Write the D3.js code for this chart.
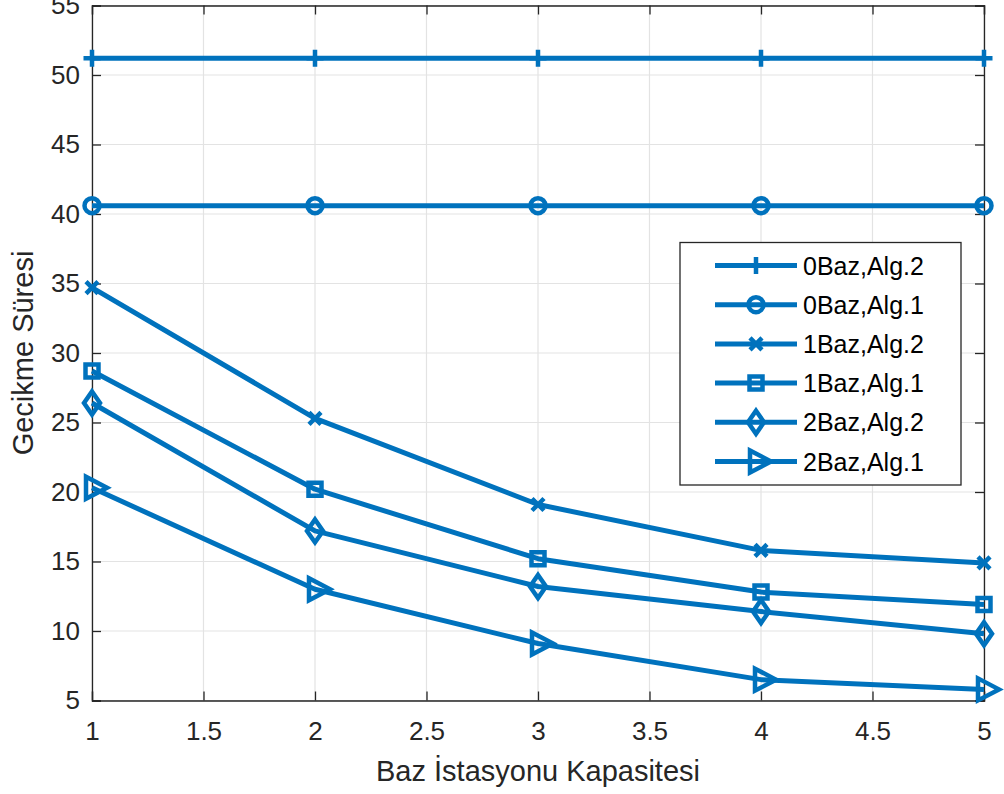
<!DOCTYPE html>
<html>
<head>
<meta charset="utf-8">
<script src="https://cdn.jsdelivr.net/npm/d3@7"></script>
<style>
  html, body { margin: 0; padding: 0; background: #fff; }
  svg { display: block; font-family: "Liberation Sans", Arial, Helvetica, sans-serif; }
</style>
</head>
<body>
<svg id="chart" width="1004" height="794"></svg>
<script>
// Base station capacity on the x axis
const capacities = [1, 2, 3, 4, 5];

// Delay per scenario
const baz0Alg2 = [51.2, 51.2, 51.2, 51.2, 51.2];
const baz0Alg1 = [40.6, 40.6, 40.6, 40.6, 40.6];
const baz1Alg2 = [34.7, 25.3, 19.1, 15.8, 14.9];
const baz1Alg1 = [28.7, 20.2, 15.2, 12.8, 11.9];
const baz2Alg2 = [26.4, 17.2, 13.2, 11.4, 9.8];
const baz2Alg1 = [20.3, 13.0, 9.1, 6.5, 5.8];

const seriesNames = ["0Baz,Alg.2", "0Baz,Alg.1", "1Baz,Alg.2", "1Baz,Alg.1", "2Baz,Alg.2", "2Baz,Alg.1"];
const seriesMarkers = ["plus", "circle", "cross", "square", "diamond", "triangle"];
const seriesValues = [baz0Alg2, baz0Alg1, baz1Alg2, baz1Alg1, baz2Alg2, baz2Alg1];

const xTicks = [1, 1.5, 2, 2.5, 3, 3.5, 4, 4.5, 5];
const yTicks = [5, 10, 15, 20, 25, 30, 35, 40, 45, 50, 55];

const xLabel = "Baz İstasyonu Kapasitesi";
const yLabel = "Gecikme Süresi";

const color = "#0072BD";
const axisColor = "#262626";
const gridColor = "#e3e3e3";
const lineW = 5;

const W = 1004, H = 794;
const margin = { left: 92, right: W - 984, top: 5.5, bottom: H - 700.5 };
const svg = d3.select("#chart");

const x = d3.scaleLinear().domain([1, 5]).range([margin.left, W - margin.right]);
const y = d3.scaleLinear().domain([5, 55]).range([H - margin.bottom, margin.top]);

// grid
const grid = svg.append("g");
grid.selectAll("line.gx").data(xTicks).join("line")
  .attr("x1", d => x(d)).attr("x2", d => x(d))
  .attr("y1", y(55)).attr("y2", y(5))
  .attr("stroke", gridColor).attr("stroke-width", 1.2);
grid.selectAll("line.gy").data(yTicks).join("line")
  .attr("y1", d => y(d)).attr("y2", d => y(d))
  .attr("x1", x(1)).attr("x2", x(5))
  .attr("stroke", gridColor).attr("stroke-width", 1.2);

// axes with inward ticks on all four sides
const tickLen = 9;
const fontSize = 26;
const xAxis = d3.axisBottom(x).tickValues(xTicks).tickSize(-tickLen).tickPadding(21)
  .tickFormat(d3.format("~g"));
const yAxis = d3.axisLeft(y).tickValues(yTicks).tickSize(-tickLen).tickPadding(12)
  .tickFormat(d3.format("~g"));
const xTop = d3.axisTop(x).tickValues(xTicks).tickSize(-tickLen).tickFormat("");
const yRight = d3.axisRight(y).tickValues(yTicks).tickSize(-tickLen).tickFormat("");

function styleAxis(g) {
  g.selectAll("path.domain").attr("stroke", axisColor).attr("stroke-width", 1.3);
  g.selectAll(".tick line").attr("stroke", axisColor).attr("stroke-width", 1.3);
  g.selectAll(".tick text").attr("fill", axisColor).attr("font-size", fontSize)
    .attr("font-family", "Liberation Sans, Arial, sans-serif");
}

svg.append("g").attr("transform", `translate(0,${y(5)})`).call(xAxis).call(styleAxis);
svg.append("g").attr("transform", `translate(${x(1)},0)`).call(yAxis).call(styleAxis);
svg.append("g").attr("transform", `translate(0,${y(55)})`).call(xTop).call(styleAxis);
svg.append("g").attr("transform", `translate(${x(5)},0)`).call(yRight).call(styleAxis);

// axis labels
svg.append("text").attr("x", (x(1) + x(5)) / 2).attr("y", 781)
  .attr("text-anchor", "middle").attr("font-size", 29).attr("fill", axisColor)
  .text(xLabel);
svg.append("text").attr("transform", `translate(33,${(y(5) + y(55)) / 2}) rotate(-90)`)
  .attr("text-anchor", "middle").attr("font-size", 29).attr("fill", axisColor)
  .text(yLabel);

// marker shapes
function markerPath(type) {
  switch (type) {
    case "plus": return "M-8.5,0H8.5M0,-8.5V8.5";
    case "cross": return "M-6,-6L6,6M-6,6L6,-6";
    case "circle": { const r = 7.5; return `M${r},0A${r},${r} 0 1,1 ${-r},0A${r},${r} 0 1,1 ${r},0Z`; }
    case "square": return "M-6.5,-6.5H6.5V6.5H-6.5Z";
    case "diamond": return "M0,-11.5L8,0L0,11.5L-8,0Z";
    case "triangle": return "M-6,-11L15,0L-6,11Z";
  }
  return "";
}

const line = d3.line().x((d, i) => x(capacities[i])).y(d => y(d));

const plot = svg.append("g");
seriesValues.forEach((vals, k) => {
  plot.append("path").datum(vals).attr("d", line)
    .attr("fill", "none").attr("stroke", color).attr("stroke-width", lineW)
    .attr("stroke-linejoin", "round");
  plot.selectAll(null).data(vals).join("path")
    .attr("transform", (d, i) => `translate(${x(capacities[i])},${y(d)})`)
    .attr("d", markerPath(seriesMarkers[k]))
    .attr("fill", "none").attr("stroke", color).attr("stroke-width", lineW - 0.5);
});

// legend
const lg = svg.append("g");
const lx0 = 680, ly0 = 242.5, lw = 281, lh = 242.5;
lg.append("rect").attr("x", lx0).attr("y", ly0).attr("width", lw).attr("height", lh)
  .attr("fill", "#fff").attr("stroke", axisColor).attr("stroke-width", 1.3);
seriesNames.forEach((name, k) => {
  const cy = 265.5 + k * 39.2;
  lg.append("line").attr("x1", 715).attr("x2", 797).attr("y1", cy).attr("y2", cy)
    .attr("stroke", color).attr("stroke-width", lineW);
  lg.append("path").attr("transform", `translate(756,${cy})`)
    .attr("d", markerPath(seriesMarkers[k]))
    .attr("fill", "none").attr("stroke", color).attr("stroke-width", lineW - 0.5);
  lg.append("text").attr("x", 803).attr("y", cy).attr("dy", "0.36em")
    .attr("font-size", 25).attr("fill", "#000").text(name);
});
</script>
</body>
</html>
